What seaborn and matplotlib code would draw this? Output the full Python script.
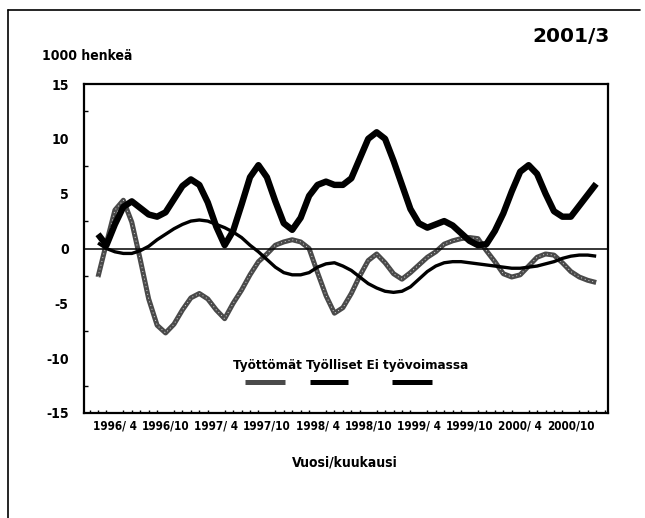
import numpy as np
import pandas as pd
import matplotlib
matplotlib.use("Agg")
import matplotlib.pyplot as plt
from matplotlib.lines import Line2D
import seaborn as sns

# ---- data (1000 persons, monthly, 1996/2 .. 2001/1) ----
months = list(range(1, 61))  # 1 = 1996/2
tyottomat = [-2.6, 0.5, 3.5, 4.4, 2.4, -1.0, -4.6, -7.0, -7.7, -6.9,
             -5.6, -4.5, -4.1, -4.6, -5.6, -6.4, -5.0, -3.8, -2.4, -1.2,
             -0.5, 0.3, 0.6, 0.8, 0.6, 0.0, -2.2, -4.3, -5.9, -5.4,
             -4.1, -2.5, -1.1, -0.5, -1.3, -2.3, -2.8, -2.2, -1.5, -0.8,
             -0.3, 0.4, 0.7, 0.9, 1.0, 0.9, -0.2, -1.2, -2.3, -2.6,
             -2.4, -1.6, -0.8, -0.5, -0.6, -1.3, -2.1, -2.6, -2.9, -3.1]
tyolliset = [1.3, 0.3, 2.2, 3.8, 4.3, 3.7, 3.1, 2.9, 3.3, 4.5,
             5.7, 6.3, 5.8, 4.2, 2.0, 0.3, 1.6, 4.0, 6.5, 7.6,
             6.5, 4.3, 2.3, 1.7, 2.8, 4.8, 5.8, 6.1, 5.8, 5.8,
             6.4, 8.2, 10.0, 10.6, 10.0, 8.0, 5.8, 3.6, 2.3, 1.9,
             2.2, 2.5, 2.1, 1.4, 0.7, 0.3, 0.4, 1.6, 3.2, 5.2,
             7.0, 7.6, 6.8, 5.0, 3.4, 2.9, 2.9, 3.9, 4.9, 5.9]
ei_tyovoimassa = [0.5, 0.0, -0.3, -0.45, -0.45, -0.2, 0.2, 0.8, 1.3, 1.8,
                  2.2, 2.5, 2.6, 2.5, 2.2, 1.9, 1.5, 1.0, 0.3, -0.3,
                  -1.0, -1.7, -2.2, -2.4, -2.4, -2.2, -1.7, -1.4, -1.3, -1.6,
                  -2.0, -2.6, -3.2, -3.6, -3.9, -4.0, -3.9, -3.5, -2.8, -2.1,
                  -1.6, -1.3, -1.2, -1.2, -1.3, -1.4, -1.5, -1.6, -1.7, -1.8,
                  -1.8, -1.7, -1.6, -1.4, -1.2, -0.9, -0.7, -0.6, -0.6, -0.7]
series_names = ["Työttömät", "Työlliset", "Ei työvoimassa"]
tick_months = [3, 9, 15, 21, 27, 33, 39, 45, 51, 57]
tick_labels = ["1996/ 4", "1996/10", "1997/ 4", "1997/10", "1998/ 4",
               "1998/10", "1999/ 4", "1999/10", "2000/ 4", "2000/10"]
y_ticks = [-15, -10, -5, 0, 5, 10, 15]

sns.set_style("white")
plt.rcParams["font.family"] = ["DejaVu Sans"]
plt.rcParams["font.stretch"] = "condensed"
plt.rcParams["font.weight"] = "bold"
plt.rcParams["text.color"] = "black"
plt.rcParams["xtick.color"] = "black"
plt.rcParams["ytick.color"] = "black"

df = pd.DataFrame({"kk": months, "Työttömät": tyottomat,
                   "Työlliset": tyolliset, "Ei työvoimassa": ei_tyovoimassa})

fig = plt.figure(figsize=(6.45, 5.18), dpi=100)
W, H = 645, 518
ax = fig.add_axes([84 / W, 1 - 413 / H, (608 - 84) / W, (413 - 84) / H])

styles = {
    "Työttömät": dict(color="#4a4a4a", lw=3.6, z=2),
    "Työlliset": dict(color="black", lw=4.6, z=4),
    "Ei työvoimassa": dict(color="black", lw=2.4, z=3),
}
for name in series_names:
    st = styles[name]
    sns.lineplot(data=df, x="kk", y=name, ax=ax, color=st["color"],
                 linewidth=st["lw"], zorder=st["z"], legend=False)
    ln = ax.lines[-1]
    ln.set_solid_capstyle("butt")
    ln.set_solid_joinstyle("round")
# stipple effect on the unemployed series
ax.plot(df["kk"], df["Työttömät"], color="white", lw=0.7,
        ls=(0, (1, 3)), zorder=2.1, alpha=0.8)

ax.axhline(0, color="black", lw=1.1, zorder=2.5)

ax.set_xlim(-0.66, 61.4)
ax.set_ylim(-15, 15)
ax.set_xticks(tick_months)
ax.set_xticklabels(tick_labels)
ax.set_xticks(range(0, 62), minor=True)
ax.set_yticks(y_ticks)
ax.set_yticklabels([str(v) for v in y_ticks])
ax.set_yticks(np.arange(-12.5, 15, 5), minor=True)
ax.tick_params(axis="x", which="major", direction="in", length=5, width=1.2,
               labelsize=8.4, pad=5, colors="black")
ax.tick_params(axis="x", which="minor", direction="in", length=2.5, width=1,
               bottom=True, colors="black")
ax.tick_params(axis="y", which="major", direction="in", length=4, width=1.2,
               labelsize=10, pad=11, colors="black")
ax.tick_params(axis="y", which="minor", direction="in", length=3, width=1,
               left=True, colors="black")
for lab in ax.get_xticklabels() + ax.get_yticklabels():
    lab.set_fontweight("bold")
    lab.set_fontstretch("condensed")
for sp in ax.spines.values():
    sp.set_visible(True)
    sp.set_color("black")
    sp.set_linewidth(1.6)
ax.set_xlabel("")
ax.set_ylabel("")

fig.text(345 / W, 1 - 462 / H, "Vuosi/kuukausi", ha="center", va="center",
         fontsize=10, fontweight="bold", fontstretch="condensed", color="black")
fig.text(42 / W, 1 - 56 / H, "1000 henkeä", ha="left", va="center",
         fontsize=10, fontweight="bold", fontstretch="condensed", color="black")
fig.text(610 / W, 1 - 36 / H, "2001/3", ha="right", va="center",
         fontsize=14.5, fontweight="bold", fontstretch="normal", color="black")

# legend: labels (one line) above short line samples
leg_y_text = (413 - 365) / (413 - 84)
leg_y_line = (413 - 382) / (413 - 84)
ax.text((233 - 84) / 524, leg_y_text, " ".join(series_names),
        transform=ax.transAxes, ha="left", va="center", fontsize=9.6,
        fontweight="bold", fontstretch="condensed", color="black")
sample_x = [((245 - 84) / 524, (285 - 84) / 524),
            ((310 - 84) / 524, (348 - 84) / 524),
            ((392 - 84) / 524, (432 - 84) / 524)]
for name, (sx0, sx1) in zip(series_names, sample_x):
    ax.add_line(Line2D([sx0, sx1], [leg_y_line, leg_y_line],
                       transform=ax.transAxes, color=styles[name]["color"],
                       lw=3.6, solid_capstyle="butt"))

# outer frame
frame_kw = dict(transform=fig.transFigure, color="black", lw=1.2)
fig.add_artist(Line2D([8 / W, 8 / W], [1 - 10 / H, 0], **frame_kw))
fig.add_artist(Line2D([8 / W, 640 / W], [1 - 10 / H, 1 - 10 / H], **frame_kw))

fig.savefig("out.png", dpi=100)
